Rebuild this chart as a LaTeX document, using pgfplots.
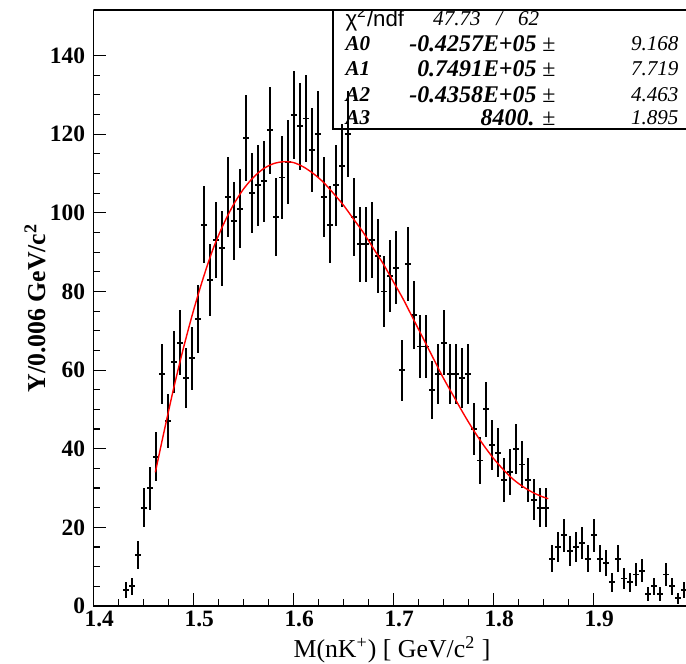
\documentclass[border=0pt]{standalone}
\usepackage{fontspec}
\setmainfont{Liberation Serif}
\newfontfamily\helv{Liberation Sans}
\usepackage{pgfplots}
\pgfplotsset{compat=1.18}
\usepackage{pgfplotstable}
\usetikzlibrary{calc}

% histogram: bin centre, entries, error
\pgfplotstableread{
x y ey
1.433 4 2.00
1.439 5 2.24
1.445 13 3.61
1.451 25 5.00
1.457 30 5.48
1.463 38 6.16
1.469 59 7.68
1.475 47 6.86
1.481 62 7.87
1.487 67 8.19
1.493 58 7.62
1.499 63 7.94
1.505 73 8.54
1.511 97 9.85
1.517 83 9.11
1.523 93 9.64
1.529 91 9.54
1.535 104 10.20
1.541 98 9.90
1.547 101 10.05
1.553 119 10.91
1.559 105 10.25
1.565 107 10.34
1.571 108 10.39
1.577 121 11.00
1.583 99 9.95
1.589 109 10.44
1.595 113 10.63
1.601 125 11.18
1.607 122 11.05
1.613 124 11.14
1.619 116 10.77
1.625 120 10.95
1.631 104 10.20
1.637 97 9.85
1.643 107 10.34
1.649 112 10.58
1.655 120 10.95
1.661 99 9.95
1.667 92 9.59
1.673 92 9.59
1.679 93 9.64
1.685 89 9.43
1.691 80 8.94
1.697 84 9.17
1.703 86 9.27
1.709 60 7.75
1.715 87 9.33
1.721 74 8.60
1.727 66 8.12
1.733 66 8.12
1.739 55 7.42
1.745 59 7.68
1.751 67 8.19
1.757 59 7.68
1.763 59 7.68
1.769 58 7.62
1.775 59 7.68
1.781 45 6.71
1.787 37 6.08
1.793 50 7.07
1.799 41 6.40
1.805 39 6.24
1.811 32 5.66
1.817 34 5.83
1.823 40 6.32
1.829 36 6.00
1.835 32 5.66
1.841 27 5.20
1.847 25 5.00
1.853 25 5.00
1.859 12 3.46
1.865 15 3.87
1.871 18 4.24
1.877 14 3.74
1.883 15 3.87
1.889 16 4.00
1.895 12 3.46
1.901 18 4.24
1.907 12 3.46
1.913 11 3.32
1.919 6 2.45
1.925 12 3.46
1.931 7 2.65
1.937 6 2.45
1.943 8 2.83
1.949 9 3.00
1.955 3 1.73
1.961 5 2.24
1.967 3 1.73
1.973 8 2.83
1.979 5 2.24
1.985 2 1.41
1.991 4 2.00
}\hist

% fitted cubic
\pgfplotstableread{
x f
1.462 34
1.470 43.5
1.480 55
1.490 65.5
1.500 75
1.510 83.5
1.520 91
1.530 97
1.540 102
1.550 106
1.560 109
1.570 111.2
1.580 112.5
1.590 113
1.600 112.8
1.610 111.7
1.620 110
1.630 107.8
1.640 105
1.650 102
1.660 98.5
1.670 95
1.680 91
1.690 87
1.700 82.5
1.710 78
1.720 73
1.730 68
1.740 63
1.750 58
1.760 53.5
1.770 49
1.780 44.8
1.790 41
1.800 37.6
1.810 34.7
1.820 32.2
1.830 30.3
1.840 28.8
1.850 27.7
1.855 27.3
}\fitcurve

\begin{document}
\begin{tikzpicture}
\begin{axis}[
    name=ax,
    scale only axis,
    width=8.89cm, height=8.94cm,
    xmin=1.4, xmax=1.9927,
    ymin=0, ymax=151.6,
    axis x line*=bottom, axis y line*=left,
    axis line style={line width=0.6pt},
    tick align=inside,
    xtick={1.4,1.5,1.6,1.7,1.8,1.9},
    ytick={0,20,40,60,80,100,120,140},
    minor x tick num=3, minor y tick num=3,
    major tick length=0.195cm, minor tick length=0.1cm,
    tick style={black, line width=0.5pt},
    /pgf/number format/assume math mode=true,
    tick label style={font=\fontsize{10}{12}\selectfont\bfseries},
    xticklabel style={xshift=2.5pt, yshift=1.5pt},
    xlabel={M(nK\textsuperscript{+}) [ GeV/c\textsuperscript{2} ]},
    ylabel={\bfseries Y/0.006 GeV/c\textsuperscript{2}},
    label style={font=\fontsize{11}{13}\selectfont},
    xlabel style={at={(axis description cs:0.504,-0.074)}, anchor=center},
    ylabel style={at={(axis description cs:-0.098,0.5)}, anchor=center},
]
\addplot[draw=none, mark=none, forget plot,
    error bars/.cd,
    x dir=both, x explicit,
    y dir=both, y explicit,
    error mark=none,
    error bar style={draw=black, solid, line width=0.8pt}]
  table[x=x, y=y, x error expr=0.003, y error=ey] {\hist};

\addplot[red, line width=0.6pt, smooth, mark=none] table[x=x, y=f] {\fitcurve};

% frame top and stats box
\draw[line width=0.6pt] (rel axis cs:0,1) -- (rel axis cs:1,1);
\draw[line width=0.6pt] (rel axis cs:0.4044,1) -- (rel axis cs:0.4044,0.800) -- (rel axis cs:1,0.800);

\begin{scope}[every node/.style={inner sep=0pt, font=\fontsize{9}{10}\selectfont\bfseries\itshape}]
\node[anchor=west] at (rel axis cs:0.4247,0.9850) {\helv\mdseries\upshape\fontsize{9.5}{10}\selectfont χ\textsuperscript{2}/ndf};
\node[anchor=west] at (rel axis cs:0.5727,0.9850) {\mdseries 47.73 \ \ / \ \ 62};
\node[anchor=west] at (rel axis cs:0.4247,0.944) {A0};
\node[anchor=west] at (rel axis cs:0.4247,0.901) {A1};
\node[anchor=west] at (rel axis cs:0.4247,0.858) {A2};
\node[anchor=west] at (rel axis cs:0.4247,0.820) {A3};
\begin{scope}[every node/.append style={font=\fontsize{10.2}{11}\selectfont\bfseries\itshape}]
\node[anchor=east] at (rel axis cs:0.7807,0.944) {-0.4257E+05 {\upshape\mdseries ±}};
\node[anchor=east] at (rel axis cs:0.7807,0.901) {0.7491E+05 {\upshape\mdseries ±}};
\node[anchor=east] at (rel axis cs:0.7807,0.858) {-0.4358E+05 {\upshape\mdseries ±}};
\node[anchor=east] at (rel axis cs:0.7807,0.820) {8400. {\upshape\mdseries ±}};
\end{scope}
\node[anchor=east] at (rel axis cs:0.9882,0.944) {\mdseries 9.168};
\node[anchor=east] at (rel axis cs:0.9882,0.901) {\mdseries 7.719};
\node[anchor=east] at (rel axis cs:0.9882,0.858) {\mdseries 4.463};
\node[anchor=east] at (rel axis cs:0.9882,0.820) {\mdseries 1.895};
\end{scope}
\end{axis}
\pgfresetboundingbox
\path[use as bounding box] ($(ax.south west)+(-1.4cm,-0.87cm)$) rectangle ($(ax.north east)+(0,0.15cm)$);
\end{tikzpicture}
\end{document}
